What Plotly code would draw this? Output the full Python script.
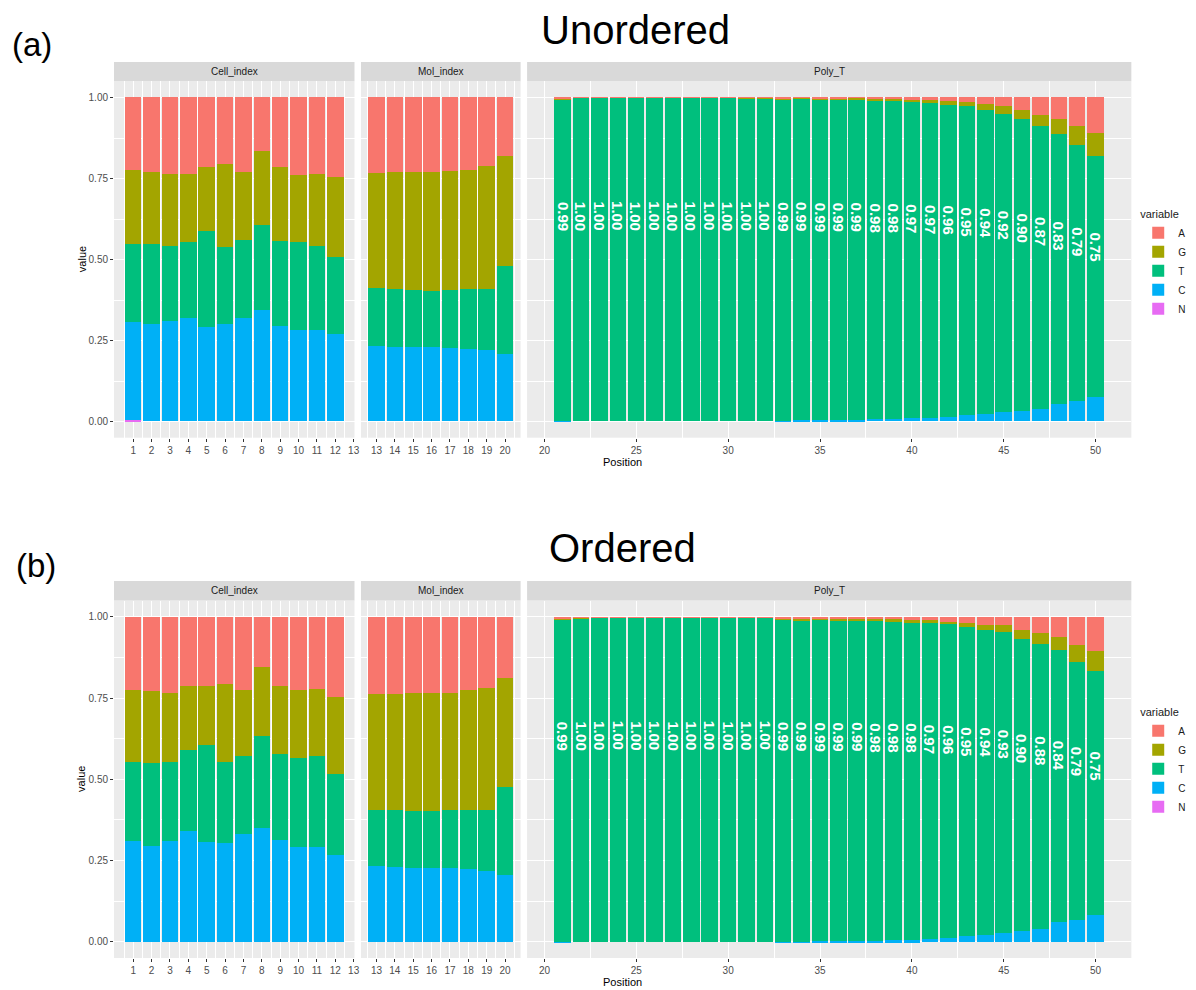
import plotly.graph_objects as go

W, H = 1196, 990
FONT = "Liberation Sans, Arial, sans-serif"
COLORS = {"A": "#F8766D", "G": "#A3A500", "T": "#00BF7D", "C": "#00B0F6", "N": "#E76BF3"}
STACK = ["N", "C", "T", "G", "A"]  # bottom -> top

cell_pos = list(range(1, 13))
mol_pos = list(range(13, 21))
poly_pos = list(range(21, 51))

cell_ticks = list(range(1, 14))
mol_ticks = list(range(13, 21))
poly_ticks = [20, 25, 30, 35, 40, 45, 50]
y_ticks = [0, 0.25, 0.5, 0.75, 1.0]
y_ticktext = ["0.00", "0.25", "0.50", "0.75", "1.00"]

# ---------------- (a) Unordered ----------------
ua_cell_N = [0.003, 0, 0, 0, 0, 0, 0, 0, 0, 0, 0, 0]
ua_cell_C = [0.304, 0.299, 0.310, 0.318, 0.291, 0.299, 0.318, 0.343, 0.295, 0.281, 0.281, 0.268]
ua_cell_T = [0.241, 0.249, 0.232, 0.234, 0.295, 0.240, 0.242, 0.263, 0.261, 0.271, 0.261, 0.238]
ua_cell_G = [0.228, 0.222, 0.222, 0.212, 0.198, 0.254, 0.210, 0.229, 0.228, 0.209, 0.222, 0.248]
ua_cell_A = [0.224, 0.230, 0.236, 0.236, 0.216, 0.207, 0.230, 0.165, 0.216, 0.239, 0.236, 0.246]

ua_mol_N = [0, 0, 0, 0, 0, 0, 0, 0]
ua_mol_C = [0.232, 0.229, 0.229, 0.229, 0.226, 0.223, 0.220, 0.206]
ua_mol_T = [0.180, 0.179, 0.176, 0.173, 0.179, 0.185, 0.188, 0.274]
ua_mol_G = [0.355, 0.362, 0.365, 0.368, 0.368, 0.368, 0.379, 0.340]
ua_mol_A = [0.233, 0.230, 0.230, 0.230, 0.227, 0.224, 0.213, 0.180]

ua_poly_N = [0] * 30
ua_poly_C = [0.002, 0, 0, 0, 0, 0, 0, 0, 0, 0, 0, 0, 0.001, 0.003, 0.003,
             0.005, 0.005, 0.007, 0.007, 0.011, 0.011, 0.012, 0.018, 0.022, 0.028,
             0.031, 0.038, 0.052, 0.062, 0.074]
ua_poly_T = [0.992, 0.998, 0.998, 0.998, 0.998, 0.998, 0.998, 0.998, 0.998, 0.998,
             0.997, 0.996, 0.993, 0.992, 0.991, 0.989, 0.987, 0.984, 0.981, 0.973,
             0.971, 0.964, 0.954, 0.937, 0.921, 0.903, 0.872, 0.833, 0.791, 0.746]
ua_poly_G = [0.002, 0.001, 0.001, 0.001, 0.001, 0.001, 0.001, 0.001, 0.001, 0.001,
             0.002, 0.003, 0.003, 0.003, 0.003, 0.003, 0.006, 0.005, 0.007, 0.008,
             0.010, 0.012, 0.013, 0.020, 0.023, 0.028, 0.036, 0.048, 0.057, 0.069]
ua_poly_A = [0.004, 0.001, 0.001, 0.001, 0.001, 0.001, 0.001, 0.001, 0.001, 0.001,
             0.001, 0.001, 0.003, 0.002, 0.003, 0.003, 0.002, 0.004, 0.005, 0.008,
             0.008, 0.012, 0.015, 0.021, 0.028, 0.038, 0.054, 0.067, 0.090, 0.111]

# ---------------- (b) Ordered ----------------
ob_cell_N = [0] * 12
ob_cell_C = [0.313, 0.297, 0.313, 0.342, 0.310, 0.306, 0.333, 0.352, 0.316, 0.293, 0.293, 0.267]
ob_cell_T = [0.242, 0.254, 0.242, 0.250, 0.297, 0.249, 0.239, 0.282, 0.264, 0.275, 0.279, 0.252]
ob_cell_G = [0.220, 0.221, 0.213, 0.196, 0.183, 0.241, 0.203, 0.212, 0.208, 0.207, 0.206, 0.235]
ob_cell_A = [0.225, 0.228, 0.232, 0.212, 0.210, 0.204, 0.225, 0.154, 0.212, 0.225, 0.222, 0.246]

ob_mol_N = [0] * 8
ob_mol_C = [0.235, 0.232, 0.229, 0.229, 0.229, 0.226, 0.219, 0.207]
ob_mol_T = [0.173, 0.174, 0.174, 0.174, 0.177, 0.180, 0.189, 0.271]
ob_mol_G = [0.357, 0.359, 0.365, 0.365, 0.362, 0.369, 0.375, 0.335]
ob_mol_A = [0.235, 0.235, 0.232, 0.232, 0.232, 0.225, 0.217, 0.187]

ob_poly_N = [0] * 30
ob_poly_C = [0.001, 0, 0, 0, 0, 0, 0, 0, 0, 0, 0, 0, 0.001, 0.002, 0.003,
             0.003, 0.004, 0.005, 0.006, 0.006, 0.011, 0.014, 0.018, 0.021, 0.028,
             0.035, 0.042, 0.062, 0.069, 0.085]
ob_poly_T = [0.991, 0.997, 0.998, 0.998, 0.998, 0.998, 0.998, 0.998, 0.998, 0.998,
             0.998, 0.998, 0.993, 0.989, 0.990, 0.988, 0.987, 0.983, 0.980, 0.977,
             0.970, 0.964, 0.953, 0.940, 0.927, 0.897, 0.876, 0.836, 0.792, 0.751]
ob_poly_G = [0.004, 0.002, 0.001, 0.001, 0.001, 0.001, 0.001, 0.001, 0.001, 0.001,
             0.001, 0.001, 0.003, 0.005, 0.004, 0.006, 0.006, 0.008, 0.010, 0.010,
             0.012, 0.007, 0.012, 0.015, 0.021, 0.028, 0.034, 0.042, 0.053, 0.060]
ob_poly_A = [0.004, 0.001, 0.001, 0.001, 0.001, 0.001, 0.001, 0.001, 0.001, 0.001,
             0.001, 0.001, 0.003, 0.004, 0.003, 0.003, 0.003, 0.004, 0.004, 0.007,
             0.007, 0.015, 0.017, 0.024, 0.024, 0.040, 0.048, 0.060, 0.086, 0.104]

unordered = {
    "cell": dict(N=ua_cell_N, C=ua_cell_C, T=ua_cell_T, G=ua_cell_G, A=ua_cell_A),
    "mol": dict(N=ua_mol_N, C=ua_mol_C, T=ua_mol_T, G=ua_mol_G, A=ua_mol_A),
    "poly": dict(N=ua_poly_N, C=ua_poly_C, T=ua_poly_T, G=ua_poly_G, A=ua_poly_A),
}
ordered = {
    "cell": dict(N=ob_cell_N, C=ob_cell_C, T=ob_cell_T, G=ob_cell_G, A=ob_cell_A),
    "mol": dict(N=ob_mol_N, C=ob_mol_C, T=ob_mol_T, G=ob_mol_G, A=ob_mol_A),
    "poly": dict(N=ob_poly_N, C=ob_poly_C, T=ob_poly_T, G=ob_poly_G, A=ob_poly_A),
}
positions = {"cell": cell_pos, "mol": mol_pos, "poly": poly_pos}


def px(x):
    return x / W


def py(y):
    return 1 - y / H


# layout geometry (pixels)
PANEL_X = {"cell": (114.5, 356.0), "mol": (362.5, 522.8), "poly": (529.3, 1136.1)}
X_RANGE = {"cell": [-0.045, 13.045], "mol": [12.155, 20.845], "poly": [19.055, 51.945]}
X_TICKS = {"cell": cell_ticks, "mol": mol_ticks, "poly": poly_ticks}
X_MINOR = {"cell": 0.5, "mol": 0.5, "poly": 2.5}
STRIP = {"cell": "Cell_index", "mol": "Mol_index", "poly": "Poly_T"}
ROWS = [
    dict(data=unordered, panel_y=(81.3, 437.7), strip_y=(62.0, 81.3), legend="legend",
         axes={"cell": 1, "mol": 2, "poly": 3}, pos_y=462),
    dict(data=ordered, panel_y=(600.5, 958.0), strip_y=(581.0, 600.5), legend="legend2",
         axes={"cell": 4, "mol": 5, "poly": 6}, pos_y=982),
]

fig = go.Figure()
layout = {}
shapes = []
annotations = []

for row in ROWS:
    for panel in ["cell", "mol", "poly"]:
        n = row["axes"][panel]
        xa = "x" if n == 1 else f"x{n}"
        ya = "y" if n == 1 else f"y{n}"
        d = row["data"][panel]
        for b in STACK:
            fig.add_trace(go.Bar(
                x=positions[panel], y=d[b], width=0.9, name=b,
                marker=dict(color=COLORS[b], line=dict(width=0)),
                xaxis=xa, yaxis=ya, legend=row["legend"],
                legendgroup=row["legend"] + b, showlegend=(panel == "cell"),
            ))
        x0, x1 = PANEL_X[panel]
        y0, y1 = row["panel_y"]
        layout["xaxis" if n == 1 else f"xaxis{n}"] = dict(
            domain=[px(x0), px(x1)], range=X_RANGE[panel], anchor=ya,
            tickmode="array", tickvals=X_TICKS[panel], ticktext=[str(t) for t in X_TICKS[panel]],
            ticks="outside", ticklen=3, tickwidth=1, tickcolor="#333333",
            tickfont=dict(family=FONT, size=10, color="#4D4D4D"),
            showgrid=True, gridcolor="white", gridwidth=1.1, zeroline=False, showline=False,
            minor=dict(dtick=X_MINOR[panel], tick0=0, showgrid=True, gridcolor="white",
                       gridwidth=0.5, ticks=""),
            fixedrange=True,
        )
        is_left = panel == "cell"
        layout["yaxis" if n == 1 else f"yaxis{n}"] = dict(
            domain=[py(y1), py(y0)], range=[-0.05, 1.05], anchor=xa,
            tickmode="array", tickvals=y_ticks, ticktext=y_ticktext,
            showticklabels=is_left, ticks="outside" if is_left else "",
            ticklen=3, tickwidth=1, tickcolor="#333333",
            tickfont=dict(family=FONT, size=10, color="#4D4D4D"),
            showgrid=True, gridcolor="white", gridwidth=1.1, zeroline=False, showline=False,
            minor=dict(dtick=0.125, tick0=0, showgrid=True, gridcolor="white",
                       gridwidth=0.5, ticks=""),
            fixedrange=True,
        )
        # facet strip
        sy0, sy1 = row["strip_y"]
        shapes.append(dict(type="rect", xref="paper", yref="paper",
                           x0=px(x0), x1=px(x1), y0=py(sy1), y1=py(sy0),
                           fillcolor="#D9D9D9", line=dict(width=0), layer="below"))
        annotations.append(dict(text=STRIP[panel], xref="paper", yref="paper",
                                x=px((x0 + x1) / 2), y=py((sy0 + sy1) / 2),
                                showarrow=False, xanchor="center", yanchor="middle",
                                font=dict(family=FONT, size=10, color="#1A1A1A")))
        if panel == "poly":
            tv = d["T"]
            for p, t in zip(positions[panel], tv):
                annotations.append(dict(
                    text=f"{t:.2f}", x=p, y=0.255 + 0.38 * t, xref=xa, yref=ya,
                    textangle=90, showarrow=False, xanchor="center", yanchor="middle",
                    font=dict(family=FONT, size=15, color="white", weight="bold")))
    # axis titles
    y0, y1 = row["panel_y"]
    annotations.append(dict(text="value", xref="paper", yref="paper",
                            x=px(82), y=py((y0 + y1) / 2), textangle=-90, showarrow=False,
                            xanchor="center", yanchor="middle",
                            font=dict(family=FONT, size=11, color="black")))
    annotations.append(dict(text="Position", xref="paper", yref="paper",
                            x=px((PANEL_X["cell"][0] + PANEL_X["poly"][1]) / 2), y=py(row["pos_y"]),
                            showarrow=False, xanchor="center", yanchor="middle",
                            font=dict(family=FONT, size=11, color="black")))

# titles and panel letters
annotations += [
    dict(text="Unordered", xref="paper", yref="paper", x=px(638), y=py(30), showarrow=False,
         xanchor="center", yanchor="middle", font=dict(family=FONT, size=40, color="black")),
    dict(text="Ordered", xref="paper", yref="paper", x=px(625), y=py(548), showarrow=False,
         xanchor="center", yanchor="middle", font=dict(family=FONT, size=40, color="black")),
    dict(text="(a)", xref="paper", yref="paper", x=px(32), y=py(45), showarrow=False,
         xanchor="center", yanchor="middle", font=dict(family=FONT, size=33, color="black")),
    dict(text="(b)", xref="paper", yref="paper", x=px(36), y=py(565), showarrow=False,
         xanchor="center", yanchor="middle", font=dict(family=FONT, size=33, color="black")),
]

legend_style = dict(
    traceorder="reversed", bgcolor="rgba(0,0,0,0)", borderwidth=0,
    font=dict(family=FONT, size=10, color="#1A1A1A"),
    title=dict(text="variable", font=dict(family=FONT, size=11, color="#1A1A1A")),
    xanchor="left", yanchor="top", itemclick=False, itemdoubleclick=False,
    tracegroupgap=0, itemwidth=30,
)

fig.update_layout(
    width=W, height=H, margin=dict(l=0, r=0, t=0, b=0),
    paper_bgcolor="white", plot_bgcolor="#EBEBEB",
    barmode="stack", bargap=0,
    shapes=shapes, annotations=annotations,
    legend=dict(x=px(1143), y=py(204), **legend_style),
    legend2=dict(x=px(1143), y=py(702), **legend_style),
    **layout,
)

fig.write_html(
    "out.html",
    config={"displayModeBar": False},
    post_script="document.body.style.margin='0px';document.body.style.overflow='hidden';",
)
